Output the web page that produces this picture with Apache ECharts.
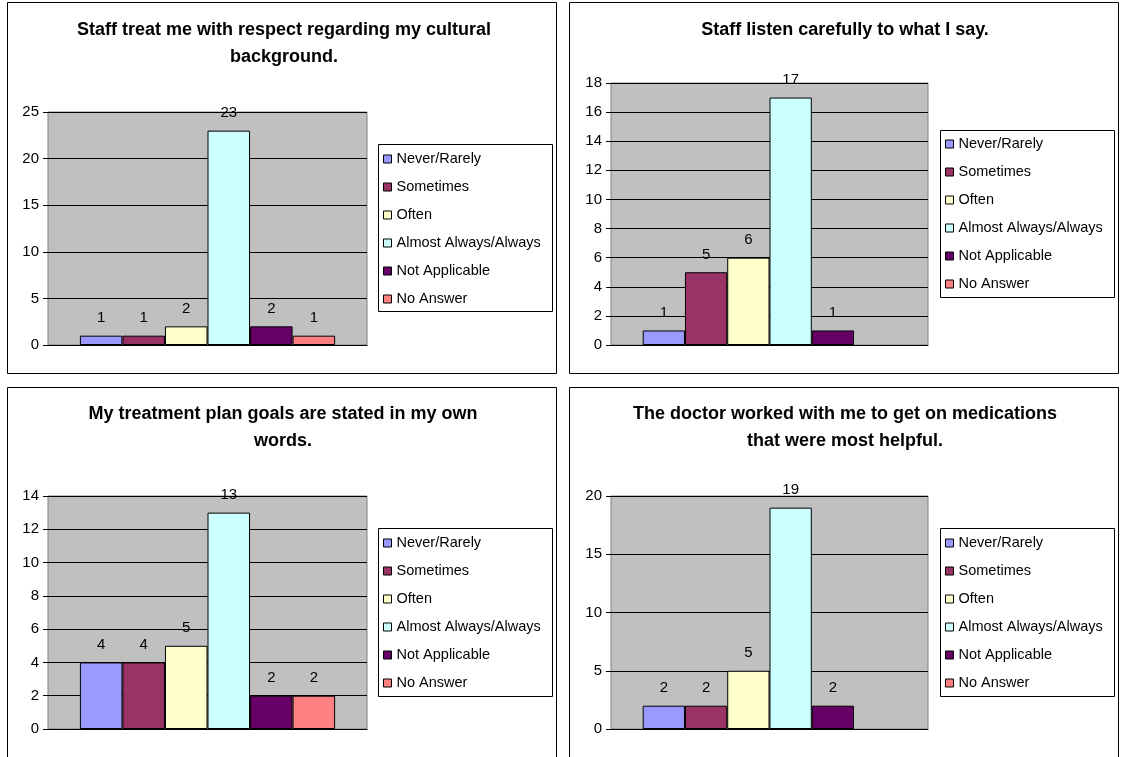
<!DOCTYPE html>
<html>
<head>
<meta charset="utf-8">
<script src="https://cdn.jsdelivr.net/npm/echarts@6/dist/echarts.min.js"></script>
<style>
html,body{margin:0;padding:0;background:#fff;}
#main{width:1123px;height:757px;}
</style>
</head>
<body>
<div id="main"></div>
<script>
// ---- data ----
var categories = ['Never/Rarely', 'Sometimes', 'Often', 'Almost Always/Always', 'Not Applicable', 'No Answer'];
var titles = [
  'Staff treat me with respect regarding my cultural\nbackground.',
  'Staff listen carefully to what I say.',
  'My treatment plan goals are stated in my own\nwords.',
  'The doctor worked with me to get on medications\nthat were most helpful.'
];
var respectValues = [1, 1, 2, 23, 2, 1];
var listenValues = [1, 5, 6, 17, 1, null];
var goalsValues = [4, 4, 5, 13, 2, 2];
var medicationValues = [2, 2, 5, 19, 2, null];
var yMax = [25, 18, 14, 20];
var yInterval = [5, 2, 2, 5];

var allValues = [respectValues, listenValues, goalsValues, medicationValues];
var colors = ['#9999FF', '#993366', '#FFFFCC', '#CCFFFF', '#660066', '#FF8080'];
var FONT = '"Liberation Sans", Arial, sans-serif';

// ---- layout ----
var grids = [
  {left: 48, top: 112, width: 319, height: 233},
  {left: 611, top: 83, width: 317, height: 262},
  {left: 48, top: 496, width: 319, height: 233},
  {left: 611, top: 496, width: 317, height: 233}
];
var titlePos = [
  {x: 284, y: 17}, {x: 845, y: 17}, {x: 283, y: 401}, {x: 845, y: 401}
];
var legendPos = [
  {left: 383, top: 151}, {left: 945, top: 136}, {left: 383, top: 535}, {left: 945, top: 535}
];
var legendBoxes = [
  {x: 378.5, y: 144.5, width: 174, height: 167},
  {x: 940.5, y: 130.5, width: 174, height: 167},
  {x: 378.5, y: 528.5, width: 174, height: 168},
  {x: 940.5, y: 528.5, width: 174, height: 168}
];
var panels = [
  {x: 7.5, y: 2.5, width: 549, height: 371},
  {x: 569.5, y: 2.5, width: 549, height: 371},
  {x: 7.5, y: 387.5, width: 549, height: 390},
  {x: 569.5, y: 387.5, width: 549, height: 390}
];

var option = {
  animation: false,
  backgroundColor: '#ffffff',
  textStyle: {fontFamily: FONT},
  title: [], grid: [], xAxis: [], yAxis: [], legend: [], series: [],
  graphic: []
};

for (var c = 0; c < 4; c++) {
  option.title.push({
    text: titles[c],
    left: titlePos[c].x, top: titlePos[c].y,
    textAlign: 'center',
    padding: 0,
    textStyle: {fontFamily: FONT, fontSize: 18, fontWeight: 'bold', color: '#000', lineHeight: 27}
  });
  option.grid.push({
    left: grids[c].left, top: grids[c].top, width: grids[c].width, height: grids[c].height,
    show: true, backgroundColor: '#C0C0C0', borderColor: '#808080', borderWidth: 1,
    containLabel: false
  });
  option.xAxis.push({
    type: 'category', gridIndex: c, data: [''],
    axisLabel: {show: false}, axisTick: {show: false},
    axisLine: {show: true, lineStyle: {color: '#000', width: 1}}
  });
  option.yAxis.push({
    type: 'value', gridIndex: c, min: 0, max: yMax[c], interval: yInterval[c],
    axisLine: {show: false},
    axisTick: {show: true, length: 5, lineStyle: {color: '#000'}},
    axisLabel: {fontFamily: FONT, fontSize: 15, color: '#000', margin: 9},
    splitLine: {show: true, lineStyle: {color: '#000', width: 1}}
  });
  option.legend.push({
    orient: 'vertical',
    left: legendPos[c].left, top: legendPos[c].top,
    padding: 0, itemGap: 12, itemWidth: 8, itemHeight: 8,
    icon: 'rect',
    selectedMode: false,
    data: categories,
    itemStyle: {borderColor: '#000', borderWidth: 1},
    textStyle: {fontFamily: FONT, fontSize: 14.5, color: '#000', lineHeight: 16}
  });
  for (var i = 0; i < categories.length; i++) {
    option.series.push({
      type: 'bar',
      name: categories[i],
      xAxisIndex: c, yAxisIndex: c,
      data: [allValues[c][i]],
      barGap: '0%',
      barCategoryGap: '20%',
      itemStyle: {color: colors[i], borderColor: '#000', borderWidth: 1},
      label: {show: true, position: 'top', distance: 10, fontFamily: FONT, fontSize: 15, color: '#000'}
    });
  }
  option.graphic.push({
    type: 'rect', shape: panels[c], z: -10, silent: true,
    style: {fill: 'none', stroke: '#000', lineWidth: 1}
  });
  option.graphic.push({
    type: 'rect', shape: legendBoxes[c], z: -5, silent: true,
    style: {fill: '#fff', stroke: '#000', lineWidth: 1}
  });
}

var chart = echarts.init(document.getElementById('main'), null, {renderer: 'canvas'});
chart.setOption(option);
</script>
</body>
</html>
